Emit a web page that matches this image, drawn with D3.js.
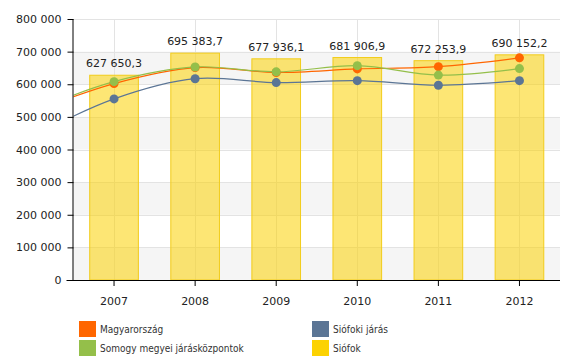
<!DOCTYPE html>
<html><head><meta charset="utf-8">
<script src="https://cdn.jsdelivr.net/npm/d3@7"></script>
<style>
html,body{margin:0;padding:0;background:#fff;}
svg{display:block;font-family:"DejaVu Sans",Verdana,sans-serif;}
</style></head>
<body><svg id="c" width="562" height="359"></svg>
<script>
// ---- data ----
const years = ["2007","2008","2009","2010","2011","2012"];
const leadYear = "2006"; // off-chart point that the smoothed lines come in from
const siofok = [627650.3, 695383.7, 677936.1, 681906.9, 672253.9, 690152.2];
const magyarorszag = [515000, 602000, 651000, 636000, 647000, 654000, 681000];
const somogy       = [518000, 608000, 653000, 638000, 657000, 628000, 648000];
const siofokiJaras = [440000, 555000, 617000, 605000, 611000, 597000, 611000];
const yTicks = [0,100000,200000,300000,400000,500000,600000,700000,800000];
const legendItems = [
  {name:"Magyarország", color:"#FF6600", col:0, row:0},
  {name:"Siófoki járás", color:"#5B7595", col:1, row:0},
  {name:"Somogy megyei járásközpontok", color:"#94BF4A", col:0, row:1},
  {name:"Siófok", color:"#FCD202", col:1, row:1}
];

const fmt = v => d3.format(",.1f")(v).replace(/,/g," ").replace(".",",");
const fmtTick = v => d3.format(",")(v).replace(/,/g," ");

const svg = d3.select("#c");
const L = 73.5, R = 560, T = 19, B = 280;

const x = d3.scaleBand().domain(years).range([L, R]).padding(0);
const step = x.step();
const xc = yr => yr === leadYear ? x(years[0]) - step + step/2 : x(yr) + step/2;
const y = d3.scaleLinear().domain([0, 800000]).range([B, T]);

// alternating bands
const bands = d3.range(0, 8).filter(i => i % 2 === 0);
svg.append("g").selectAll("rect").data(bands).join("rect")
  .attr("x", L).attr("width", R - L)
  .attr("y", i => y((i+1)*100000)).attr("height", i => y(i*100000) - y((i+1)*100000))
  .attr("fill", "#f5f5f5");

// gridlines
const grid = svg.append("g").attr("stroke", "#e3e3e3").attr("stroke-width", 1);
grid.selectAll("line.h").data(yTicks.filter(d => d > 0)).join("line")
  .attr("x1", L).attr("x2", R)
  .attr("y1", d => Math.round(y(d)) + 0.5).attr("y2", d => Math.round(y(d)) + 0.5);
grid.selectAll("line.v").data(years).join("line")
  .attr("x1", d => Math.round(xc(d)) + 0.5).attr("x2", d => Math.round(xc(d)) + 0.5)
  .attr("y1", T).attr("y2", B);

// bars
const bw = step * 0.6;
svg.append("g").selectAll("rect").data(years).join("rect")
  .attr("x", d => xc(d) - bw/2).attr("width", bw)
  .attr("y", (d,i) => y(siofok[i])).attr("height", (d,i) => B - y(siofok[i]))
  .attr("fill", "#FCD202").attr("fill-opacity", 0.55)
  .attr("stroke", "#F2CC1A").attr("stroke-width", 1);

// bar labels
svg.append("g").selectAll("text").data(years).join("text")
  .attr("x", d => xc(d)).attr("y", (d,i) => y(siofok[i]) - 8)
  .attr("text-anchor", "middle").attr("font-size", 11).attr("fill", "#222")
  .text((d,i) => fmt(siofok[i]));

// lines
svg.append("clipPath").attr("id", "clip").append("rect")
  .attr("x", L).attr("y", 0).attr("width", R - L).attr("height", B);
const allYears = [leadYear, ...years];
const line = d3.line().x(d => xc(d.yr)).y(d => y(d.v)).curve(d3.curveCatmullRom.alpha(0.5));
const series = [
  {vals: siofokiJaras, color: "#5B7595"},
  {vals: magyarorszag, color: "#FF6600"},
  {vals: somogy, color: "#94BF4A"}
];
const lg = svg.append("g").attr("clip-path", "url(#clip)");
series.forEach(s => {
  const pts = allYears.map((yr, i) => ({yr, v: s.vals[i]}));
  lg.append("path").attr("d", line(pts)).attr("fill", "none")
    .attr("stroke", s.color).attr("stroke-width", 1.2);
});
series.forEach(s => {
  svg.append("g").selectAll("circle").data(years).join("circle")
    .attr("cx", d => xc(d)).attr("cy", (d,i) => y(s.vals[i+1]))
    .attr("r", 4.5).attr("fill", s.color);
});

// axes
const ya = svg.append("g").attr("transform", `translate(${L},0)`)
  .call(d3.axisLeft(y).tickValues(yTicks).tickFormat(fmtTick).tickSize(6).tickPadding(6));
ya.select(".domain").attr("stroke", "#000").attr("d", `M-0.5,${T}V${B}`);
ya.selectAll("text").attr("font-size", 11).attr("font-family", "DejaVu Sans").attr("fill", "#222");
const xa = svg.append("g").attr("transform", `translate(0,${B})`)
  .call(d3.axisBottom(x).tickSize(6).tickPadding(11));
xa.select(".domain").attr("stroke", "#000").attr("d", `M${L-7},0.5H${R}`);
xa.selectAll("text").attr("font-size", 11).attr("font-family", "DejaVu Sans").attr("fill", "#222");

// legend
const leg = svg.append("g");
const colX = [79, 312], rowY = [321, 340];
legendItems.forEach(it => {
  const g = leg.append("g").attr("transform", `translate(${colX[it.col]},${rowY[it.row]})`);
  g.append("rect").attr("width", 17).attr("height", 16).attr("fill", it.color);
  g.append("text").attr("x", 21).attr("y", 12).attr("font-size", 10)
    .attr("font-family", "'DejaVu Sans Condensed','DejaVu Sans',sans-serif")
    .attr("fill", "#333").text(it.name);
});
</script></body></html>
